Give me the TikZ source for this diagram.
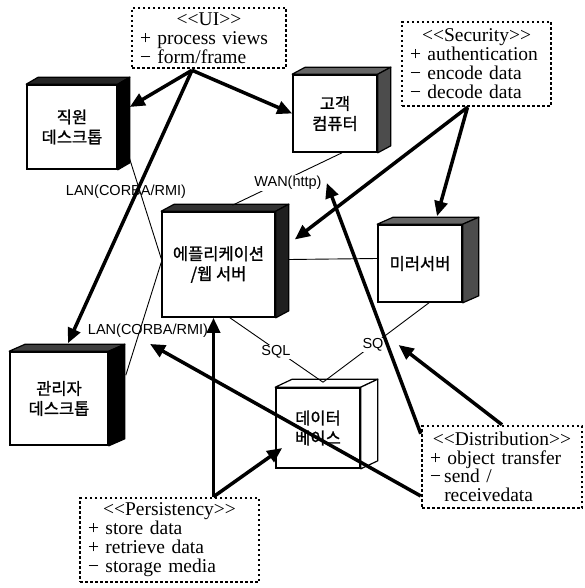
\documentclass[tikz,border=0pt]{standalone}
\usepackage{fontspec}
\setmainfont{Liberation Serif}
\newfontfamily\kr{Noto Sans CJK KR}[FakeBold=1.2]
\newfontfamily\boxfont{Liberation Serif}[WordSpace=1.6]
\newfontfamily\lab{Liberation Sans}
\usetikzlibrary{arrows.meta,calc}
\tikzset{
  cubeface/.style={draw, fill=white, line width=1.6pt, align=center, inner sep=0pt,
    font=\kr\fontsize{16.5}{20}\selectfont},
  noteb/.style={draw, line width=2.5pt, dash pattern=on 2.5pt off 2.5pt, align=left,
    inner xsep=8pt, inner ysep=0pt, font=\boxfont\fontsize{19.5}{19}\selectfont},
  conn/.style={line width=0.9pt},
  lbl/.style={font=\lab\fontsize{14.5}{16}\selectfont, inner sep=1pt},
  big/.style={line width=3.5pt, -{Triangle[length=15pt,width=13pt]}},
}
\newcommand\cubesides[5]{%
  \filldraw[line width=1.2pt, fill=#3, line join=round] (#1.north west) -- ++(#4,#5)
     -- ($(#1.north east)+(#4,#5)$) -- (#1.north east) -- cycle;
  \filldraw[line width=1.2pt, fill=#2, line join=round] (#1.north east) -- ++(#4,#5)
     -- ($(#1.south east)+(#4,#5)$) -- (#1.south east) -- cycle;}
\begin{document}
\begin{tikzpicture}[x=1pt,y=-1pt]
\useasboundingbox (0,0) rectangle (584,588);

% cubes
\node[cubeface, minimum width=90pt, minimum height=84pt] (emp) at (72,127) {직원\\데스크톱};
\cubesides{emp}{black}{black!85}{12}{-7}
\node[cubeface, minimum width=84pt, minimum height=77pt] (cust) at (335,113.5) {고객\\컴퓨터};
\cubesides{cust}{black!70}{black!60}{13}{-7}
\node[cubeface, minimum width=113pt, minimum height=105pt] (app) at (218.5,264.5) {에플리케이션\\/웹 서버};
\cubesides{app}{black!88}{black!80}{13}{-7}
\node[cubeface, minimum width=84pt, minimum height=77pt] (mirror) at (420,263.5) {미러서버};
\cubesides{mirror}{black!70}{black!60}{16}{-7}
\node[cubeface, minimum width=98pt, minimum height=93pt] (admin) at (59,398.5) {관리자\\데스크톱};
\cubesides{admin}{black}{black!75}{16}{-7}
\node[cubeface, minimum width=84pt, minimum height=80pt] (db) at (318,428) {데이터\\베이스};
\cubesides{db}{white}{white}{17}{-8}
\coordinate (dbtop) at ($(db.north)+(5,-5)$);

% note boxes
\node[noteb, minimum width=154pt, minimum height=60pt, text width=138pt] (ui) at (209,38)
  {\makebox[\linewidth]{\textless\textless UI\textgreater\textgreater}\\\mbox{+ process views}\\\mbox{− form/frame}};
\node[noteb, minimum width=149pt, minimum height=84pt, text width=133pt] (sec) at (476.5,64)
  {\makebox[\linewidth]{\textless\textless Security\textgreater\textgreater}\\\mbox{+ authentication}\\\mbox{− encode data}\\\mbox{− decode data}};
\node[noteb, minimum width=179pt, minimum height=84pt, text width=163pt] (pers) at (169.5,540)
  {\makebox[\linewidth]{\textless\textless Persistency\textgreater\textgreater}\\\mbox{+ store data}\\\mbox{+ retrieve data}\\\mbox{− storage media}};
\node[noteb, minimum width=160pt, minimum height=82pt, text width=144pt, font=\boxfont\fontsize{19.5}{18.5}\selectfont] (dist) at (502,467)
  {\makebox[\linewidth]{\textless\textless Distribution\textgreater\textgreater}\\\mbox{+ object transfer}\\\mbox{−\,send /}\\\mbox{\phantom{−\,}receivedata}};

% thin connections
\draw[conn] ($(emp.east)+(10,26)$) -- ($(app.west)+(0,-6)$);
\draw[conn] ($(admin.north east)+(17,24)$) -- ($(app.west)+(0,-2)$);
\draw[conn] ($(app.east)+(13,-5)$) -- ($(mirror.west)+(0,-5)$);
\draw[conn] ($(cust.south)+(7,0)$) -- ($(app.north)+(14,-6)$);
\draw[conn] ($(app.south)+(10,-1)$) -- (dbtop);
\draw[conn] ($(mirror.south)+(9,0)$) -- (dbtop);

% labels
\node[lbl] (lan1) at (126,192) {LAN(CORBA/RMI)};
\node[lbl] (lan2) at (148,331) {LAN(CORBA/RMI)};
\node[lbl, fill=white] (wan) at (288,183) {WAN(http)};
\node[lbl, fill=white] (sql) at (276,352) {SQL};
\node[lbl, fill=white] (sq) at (373,345) {SQ};

% thick arrows
\coordinate (uiout) at ($(ui.south)+(-17,1)$);
\draw[big] (uiout) -- ($(emp.east)+(12,-20)$);
\draw[big] (uiout) -- (cust.west);
\draw[big] (uiout) -- ($(admin.north)+(9,-8)$);
\coordinate (secout) at ($(sec.south)+(-9,0)$);
\draw[big] (secout) -- ($(app.east)+(19,-25)$);
\draw[big] (secout) -- ($(mirror.north)+(17,-8)$);
\coordinate (persout) at ($(pers.north)+(44,0)$);
\draw[big] (persout) -- ($(app.south)+(-5,0)$);
\draw[big] (persout) -- ($(db.west)+(7,20)$);
\draw[big] ($(dist.north west)+(0,9)$) -- ($(wan.east)+(4,0)$);
\draw[big] (dist.north) -- ($(sq.east)+(14,0)$);
\draw[big] ($(dist.west)+(0,29)$) -- ($(lan2.south)+(2,5)$);
\end{tikzpicture}
\end{document}
